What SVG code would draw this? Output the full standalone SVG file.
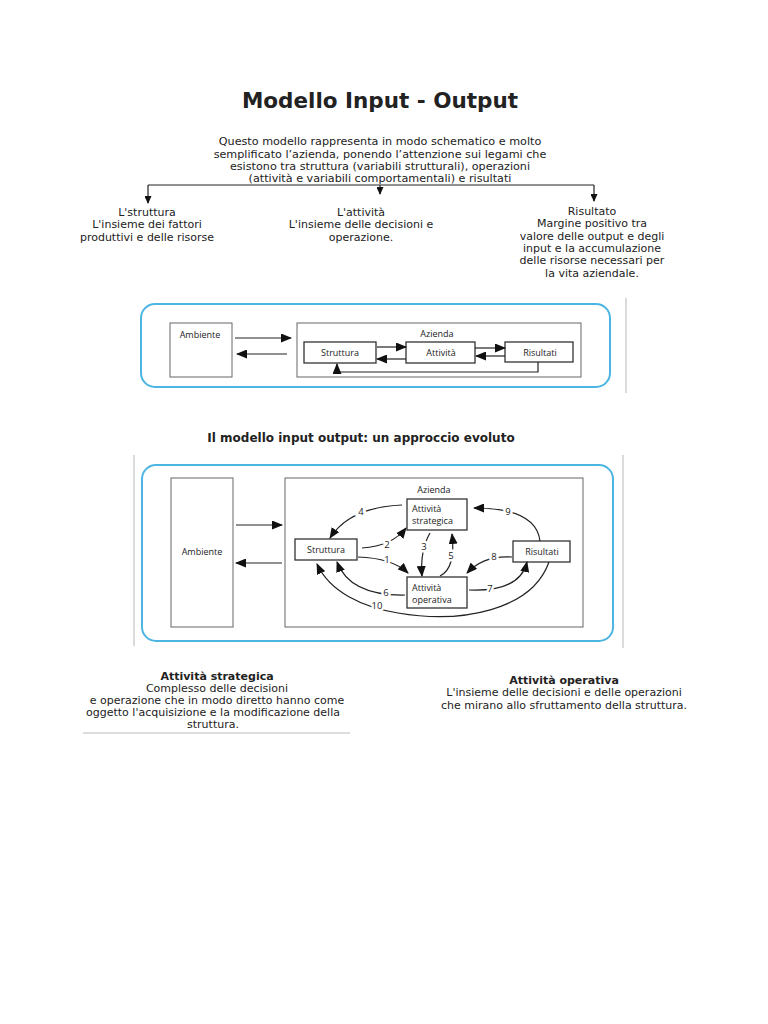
<svg xmlns="http://www.w3.org/2000/svg" width="768" height="1024" viewBox="0 0 768 1024">
<style>
.t{font-family:"DejaVu Sans",Verdana,sans-serif;fill:#222;text-anchor:middle}
.p{font-size:11.2px}
.s{font-size:11px}
.b{font-weight:bold}
.d{font-family:"Open Sans","Liberation Sans",Arial,sans-serif;font-size:9px;fill:#222}
.c{text-anchor:middle}
.box{fill:#fff;stroke:#333;stroke-width:1.3}
.obox{fill:#fff;stroke:#666;stroke-width:1}
.blue{fill:none;stroke:#4cb5e2;stroke-width:2}
.gl{stroke:#cfcfcf;stroke-width:1.5}
.ln{fill:none;stroke:#222;stroke-width:1.2}
.num{font-family:"Open Sans","Liberation Sans",Arial,sans-serif;font-size:9.5px;fill:#222;text-anchor:middle;stroke:#fff;stroke-width:5;paint-order:stroke}
</style>
<defs>
<marker id="ah" markerUnits="userSpaceOnUse" markerWidth="11" markerHeight="9" refX="10" refY="4.5" orient="auto"><path d="M0,0 L11,4.5 L0,9 z" fill="#111"/></marker>
<marker id="sh" markerUnits="userSpaceOnUse" markerWidth="8" markerHeight="7" refX="7" refY="3.5" orient="auto"><path d="M0,0 L8,3.5 L0,7 z" fill="#111"/></marker>
</defs>
<rect width="768" height="1024" fill="#fff"/>

<g id="title"><text class="t b" x="380" y="108" font-size="21.5">Modello Input - Output</text></g>

<g id="intro">
<text class="t p" x="380" y="145">Questo modello rappresenta in modo schematico e molto</text>
<text class="t p" x="380" y="158">semplificato l’azienda, ponendo l’attenzione sui legami che</text>
<text class="t p" x="380" y="170">esistono tra struttura (variabili strutturali), operazioni</text>
<text class="t p" x="380" y="182">(attività e variabili comportamentali) e risultati</text>
</g>

<g id="bracket">
<path class="ln" d="M148,185 H594" stroke-width="1.5"/>
<path class="ln" d="M148,185 V203" stroke-width="1.5" marker-end="url(#sh)"/>
<path class="ln" d="M380,185 V194" stroke-width="1.5" marker-end="url(#sh)"/>
<path class="ln" d="M594,185 V201" stroke-width="1.5" marker-end="url(#sh)"/>
</g>

<g id="struttura-def">
<text class="t s" x="147" y="216">L'struttura</text>
<text class="t s" x="147" y="228">L'insieme dei fattori</text>
<text class="t s" x="147" y="241">produttivi e delle risorse</text>
</g>
<g id="attivita-def">
<text class="t s" x="361" y="216">L'attività</text>
<text class="t s" x="361" y="228">L'insieme delle decisioni e</text>
<text class="t s" x="361" y="241">operazione.</text>
</g>
<g id="risultato-def">
<text class="t s" x="592" y="215">Risultato</text>
<text class="t s" x="592" y="227">Margine positivo tra</text>
<text class="t s" x="592" y="240">valore delle output e degli</text>
<text class="t s" x="592" y="252">input e la accumulazione</text>
<text class="t s" x="592" y="264">delle risorse necessari per</text>
<text class="t s" x="592" y="277">la vita aziendale.</text>
</g>

<!-- Diagram 1 -->
<g id="d1-frame">
<rect class="blue" x="141" y="304" width="469" height="83" rx="14"/>
<line class="gl" x1="626" y1="298" x2="626" y2="393"/>
</g>
<g id="d1-ambiente">
<rect class="obox" x="170" y="323" width="62" height="54"/>
<text class="d c" x="200" y="338">Ambiente</text>
</g>
<g id="d1-azienda">
<rect class="obox" x="297" y="323" width="284" height="54"/>
<text class="d c" x="437" y="337">Azienda</text>
</g>
<g id="d1-struttura">
<rect class="box" x="304" y="342" width="72" height="21"/>
<text class="d c" x="340" y="356">Struttura</text>
</g>
<g id="d1-attivita">
<rect class="box" x="406" y="342" width="69" height="21"/>
<text class="d c" x="441" y="356">Attività</text>
</g>
<g id="d1-risultati">
<rect class="box" x="505" y="342" width="68" height="20"/>
<text class="d c" x="540" y="356">Risultati</text>
</g>
<g id="d1-connectors">
<path class="ln" d="M235,338 H291" marker-end="url(#ah)"/>
<path class="ln" d="M287,354 H237" marker-end="url(#ah)"/>
<path class="ln" d="M377,347 H406" marker-end="url(#ah)"/>
<path class="ln" d="M406,359 H377" marker-end="url(#ah)"/>
<path class="ln" d="M475,348 H505" marker-end="url(#ah)"/>
<path class="ln" d="M505,356 H476" marker-end="url(#ah)"/>
<path class="ln" d="M538,362 V372 H337 V364" marker-end="url(#ah)"/>
</g>

<g id="title2"><text class="t b" x="361" y="442" font-size="12px">Il modello input output: un approccio evoluto</text></g>

<!-- Diagram 2 -->
<g id="d2-frame">
<rect class="blue" x="142" y="465" width="471" height="176" rx="14"/>
<line class="gl" x1="134" y1="455" x2="134" y2="646"/>
<line class="gl" x1="623" y1="455" x2="623" y2="648"/>
</g>
<g id="d2-ambiente">
<rect class="obox" x="171" y="478" width="62" height="149"/>
<text class="d c" x="202" y="555">Ambiente</text>
</g>
<g id="d2-azienda">
<rect class="obox" x="285" y="478" width="298" height="149"/>
<text class="d c" x="434" y="493">Azienda</text>
</g>
<g id="d2-strategica">
<rect class="box" x="407" y="499" width="60" height="31"/>
<text class="d" x="412" y="512">Attività</text>
<text class="d" x="412" y="524">strategica</text>
</g>
<g id="d2-struttura">
<rect class="box" x="295" y="539" width="62" height="21"/>
<text class="d c" x="326" y="553">Struttura</text>
</g>
<g id="d2-risultati">
<rect class="box" x="513" y="541" width="57" height="21"/>
<text class="d c" x="542" y="555">Risultati</text>
</g>
<g id="d2-operativa">
<rect class="box" x="407" y="577" width="60" height="31"/>
<text class="d" x="412" y="591">Attività</text>
<text class="d" x="412" y="603">operativa</text>
</g>
<g id="d2-connectors">
<path class="ln" d="M236,525 H282" marker-end="url(#ah)"/>
<path class="ln" d="M282,563 H236" marker-end="url(#ah)"/>
<path class="ln" d="M402,505 Q350,507 330,538" marker-end="url(#ah)"/>
<text class="num" x="361" y="515">4</text>
<path class="ln" d="M362,548 Q392,546 406,528" marker-end="url(#ah)"/>
<text class="num" x="387" y="548">2</text>
<path class="ln" d="M358,557 Q392,558 408,573" marker-end="url(#ah)"/>
<text class="num" x="387" y="563">1</text>
<path class="ln" d="M430,533 Q420,550 422,576" marker-end="url(#ah)"/>
<text class="num" x="424" y="550">3</text>
<path class="ln" d="M440,576 Q456,568 452,534" marker-end="url(#ah)"/>
<text class="num" x="451" y="559">5</text>
<path class="ln" d="M512,557 Q484,555 467,573" marker-end="url(#ah)"/>
<text class="num" x="494" y="560">8</text>
<path class="ln" d="M540,541 Q536,508 474,508" marker-end="url(#ah)"/>
<text class="num" x="508" y="515">9</text>
<path class="ln" d="M469,590 Q520,592 527,562" marker-end="url(#ah)"/>
<text class="num" x="490" y="592">7</text>
<path class="ln" d="M405,595 Q350,596 337,562" marker-end="url(#ah)"/>
<text class="num" x="386" y="596">6</text>
<path class="ln" d="M549,562 C532,610 462,624 398,613 C362,607 330,592 317,564" marker-end="url(#ah)"/>
<text class="num" x="377" y="609">10</text>
</g>

<g id="strategica-def">
<text class="t b s" x="217" y="680">Attività strategica</text>
<text class="t s" x="217" y="692">Complesso delle decisioni</text>
<text class="t s" x="217" y="704">e operazione che in modo diretto hanno come</text>
<text class="t s" x="213" y="716">oggetto l'acquisizione e la modificazione della</text>
<text class="t s" x="213" y="728">struttura.</text>
<line x1="83" y1="733" x2="350" y2="733" stroke="#bbb" stroke-width="1"/>
</g>
<g id="operativa-def">
<text class="t b s" x="564" y="684">Attività operativa</text>
<text class="t s" x="564" y="696">L'insieme delle decisioni e delle operazioni</text>
<text class="t s" x="564" y="709">che mirano allo sfruttamento della struttura.</text>
</g>
</svg>
